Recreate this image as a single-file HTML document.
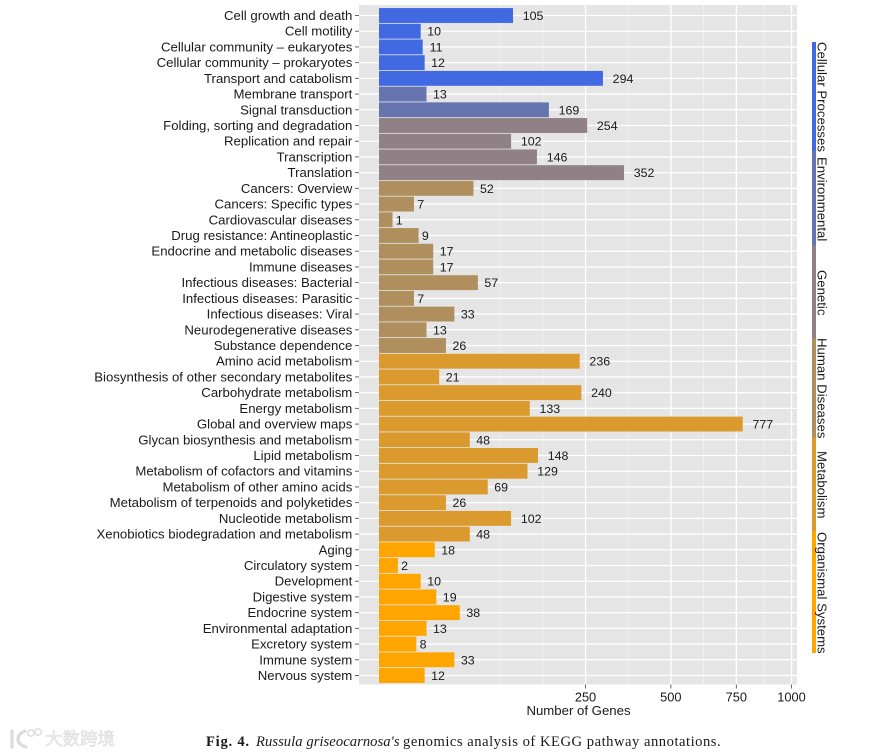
<!DOCTYPE html>
<html>
<head>
<meta charset="utf-8">
<style>
  html, body { margin: 0; padding: 0; background: #fff; }
  #wrap { position: relative; width: 887px; height: 755px; overflow: hidden; }
  svg { position: absolute; left: 0; top: 0; }
  text { font-family: "Liberation Sans", sans-serif; fill: #1a1a1a; }
  .cap { font-family: "Liberation Serif", serif; font-size: 14.6px; fill: #1a1a1a; }
</style>
</head>
<body>
<div id="wrap">
<svg id="chart" width="887" height="755" viewBox="0 0 887 755">
  <rect x="359" y="5" width="438" height="679.5" fill="#e5e5e5"/>
  <g id="grid"></g>
  <g id="bars"></g>
  <g id="yaxis"></g>
  <g id="xaxis"></g>
  <text x="578.5" y="715" text-anchor="middle" font-size="13.2">Number of Genes</text>

  <g>
    <rect x="812" y="42" width="4" height="109" fill="#4169e1"/>
    <rect x="812" y="151" width="4" height="94" fill="#6675b0"/>
    <rect x="812" y="245" width="4" height="93" fill="#8f8185"/>
    <rect x="812" y="338" width="4" height="99" fill="#b08f5f"/>
    <rect x="812" y="437" width="4" height="94" fill="#db9a2e"/>
    <rect x="812" y="531" width="4" height="122" fill="#ffa500"/>
    <text transform="translate(817.5,42) rotate(90)" font-size="13.2">Cellular Processes</text>
    <text transform="translate(817.5,157) rotate(90)" font-size="13.2">Environmental</text>
    <text transform="translate(817.5,270) rotate(90)" font-size="13.2">Genetic</text>
    <text transform="translate(817.5,338) rotate(90)" font-size="13.2">Human Diseases</text>
    <text transform="translate(817.5,451) rotate(90)" font-size="13.2">Metabolism</text>
    <text transform="translate(817.5,532) rotate(90)" font-size="13.2">Organismal Systems</text>
  </g>

  <text y="746" class="cap"><tspan x="206" font-weight="bold" letter-spacing="0.75" style="font-family:'Liberation Serif',serif">Fig. 4.</tspan><tspan x="256" font-style="italic" letter-spacing="0.06" style="font-family:'Liberation Serif',serif">Russula griseocarnosa's</tspan><tspan x="403" letter-spacing="0.52" style="font-family:'Liberation Serif',serif">genomics analysis of KEGG pathway annotations.</tspan></text>

  <g>
    <path d="M12 731 L12 747 M25 731 C16 734 15 744 26 747" fill="none" stroke="#dcdcdc" stroke-width="3.2" stroke-linecap="round"/>
    <circle cx="31" cy="733" r="3.2" fill="none" stroke="#dcdcdc" stroke-width="1.4"/>
    <circle cx="38" cy="732" r="3.2" fill="none" stroke="#dcdcdc" stroke-width="1.4"/>
    <text x="45" y="745" font-size="17.5" stroke="#dedede" stroke-width="0.6" style="font-family:'Liberation Sans','Noto Sans CJK SC',sans-serif;fill:#ececec">大数跨境</text>
  </g>
</svg>
</div>
<script>
var categories = ["Cell growth and death","Cell motility","Cellular community \u2013 eukaryotes","Cellular community \u2013 prokaryotes","Transport and catabolism","Membrane transport","Signal transduction","Folding, sorting and degradation","Replication and repair","Transcription","Translation","Cancers: Overview","Cancers: Specific types","Cardiovascular diseases","Drug resistance: Antineoplastic","Endocrine and metabolic diseases","Immune diseases","Infectious diseases: Bacterial","Infectious diseases: Parasitic","Infectious diseases: Viral","Neurodegenerative diseases","Substance dependence","Amino acid metabolism","Biosynthesis of other secondary metabolites","Carbohydrate metabolism","Energy metabolism","Global and overview maps","Glycan biosynthesis and metabolism","Lipid metabolism","Metabolism of cofactors and vitamins","Metabolism of other amino acids","Metabolism of terpenoids and polyketides","Nucleotide metabolism","Xenobiotics biodegradation and metabolism","Aging","Circulatory system","Development","Digestive system","Endocrine system","Environmental adaptation","Excretory system","Immune system","Nervous system"];
var geneCounts = [105,10,11,12,294,13,169,254,102,146,352,52,7,1,9,17,17,57,7,33,13,26,236,21,240,133,777,48,148,129,69,26,102,48,18,2,10,19,38,13,8,33,12];
var groupSizes = [5,2,4,11,12,9];
var groupColors = ["#4169e1","#6675b0","#8f8185","#b08f5f","#db9a2e","#ffa500"];
var xTicks = [250,500,750,1000];

var NS = "http://www.w3.org/2000/svg";
function xScale(v) { return 379.5 + 13.03 * Math.sqrt(v); }
function yScale(i) { return 15.5 + i * (660 / (categories.length - 1)); }
function make(parent, tag, attrs, txt) {
  var el = document.createElementNS(NS, tag);
  for (var k in attrs) el.setAttribute(k, attrs[k]);
  if (txt !== undefined) el.textContent = txt;
  parent.appendChild(el);
  return el;
}
var gGrid = document.getElementById("grid");
var gBars = document.getElementById("bars");
var gY = document.getElementById("yaxis");
var gX = document.getElementById("xaxis");

// minor vertical gridlines sit midway between majors in sqrt space
var xs = xTicks.map(xScale);
var step0 = xs[1] - xs[0];
var minorX = [xs[0] - step0, xs[0] - step0 / 2];
for (var m = 0; m < xs.length - 1; m++) minorX.push((xs[m] + xs[m + 1]) / 2);
minorX.forEach(function (x) {
  var ln = make(gGrid, "line", {x1: x, x2: x, y1: 5, y2: 684.5, stroke: "#f2f2f2", "stroke-width": 0.8});
  
  
});
xTicks.forEach(function (t) {
  var x = xScale(t);
  var ln = make(gGrid, "line", {x1: x, x2: x, y1: 5, y2: 684.5, stroke: "#fff", "stroke-width": 1.3});
  
  
  var tk = make(gX, "line", {x1: x, x2: x, y1: 684.5, y2: 688.5, stroke: "#555", "stroke-width": 0.9});
  
  
  var lb = make(gX, "text", {x: x, y: 701.5, "text-anchor": "middle", "font-size": 12.8}, String(t));
  
  
});

var groupOf = [];
groupSizes.forEach(function (n, g) { for (var j = 0; j < n; j++) groupOf.push(g); });

categories.forEach(function (name, i) {
  var y = yScale(i);
  var gl = make(gGrid, "line", {x1: 359, x2: 797, y1: y, y2: y, stroke: "#fff", "stroke-width": 1.3});
  
  
  var x = xScale(geneCounts[i]);
  var bar = make(gBars, "rect", {x: 379, y: y - 7.45, width: x - 379, height: 14.9, fill: groupColors[groupOf[i]]});
  
  
  var label = String(geneCounts[i]);
  var val = make(gBars, "text", {x: x + 6.7 * label.length, y: y + 4.5, "text-anchor": "middle", "font-size": 12.4}, label);
  
  
  var tk = make(gY, "line", {x1: 355, x2: 359, y1: y, y2: y, stroke: "#555", "stroke-width": 0.9});
  
  
  var cat = make(gY, "text", {x: 352.3, y: y + 4.5, "text-anchor": "end", "font-size": 13.2}, name);
  
  
});
</script>
</body>
</html>
